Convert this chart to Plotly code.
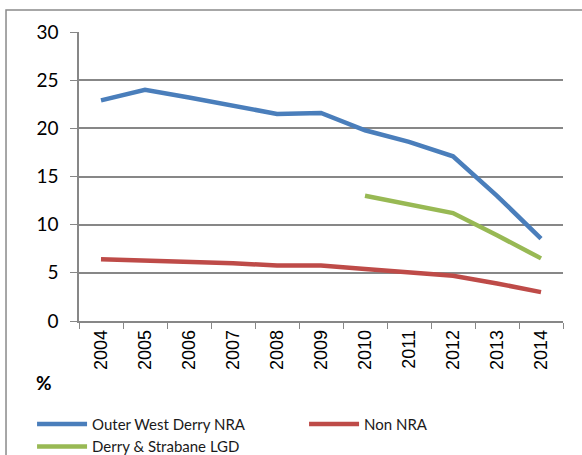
import plotly.graph_objects as go

years = ["2004", "2005", "2006", "2007", "2008", "2009", "2010", "2011", "2012", "2013", "2014"]
outer_west_derry = [22.9, 24.0, 23.2, 22.3, 21.5, 21.6, 19.8, 18.6, 17.1, 13.0, 8.55]
non_nra = [6.4, 6.3, 6.2, 6.0, 5.75, 5.75, 5.4, 5.1, 4.7, 3.9, 3.0]
derry_strabane = [None, None, None, None, None, None, 13.0, 12.1, 11.2, 8.9, 6.5]

GRID = "#878787"

fig = go.Figure()
fig.add_trace(go.Scatter(x=years, y=outer_west_derry, mode="lines", name="Outer West Derry NRA",
                         line=dict(color="#4a7ebb", width=4.5)))
fig.add_trace(go.Scatter(x=years, y=non_nra, mode="lines", name="Non NRA",
                         line=dict(color="#be4b48", width=4.5)))
fig.add_trace(go.Scatter(x=years, y=derry_strabane, mode="lines", name="Derry & Strabane LGD",
                         line=dict(color="#98b954", width=4.5)))

fig.update_layout(
    width=582, height=455,
    margin=dict(l=79, r=19, t=32, b=134, autoexpand=False),
    paper_bgcolor="white", plot_bgcolor="white",
    showlegend=True,
    legend=dict(orientation="h", x=-0.097, y=-0.3, xanchor="left", yanchor="top",
                entrywidth=207, entrywidthmode="pixels", itemwidth=50,
                font=dict(family="Lato", size=15, color="#1a1a1a"),
                tracegroupgap=0, bgcolor="rgba(0,0,0,0)"),
    xaxis=dict(type="category", range=[-0.5, 10.5], tickangle=-90, tickson="boundaries",
               ticks="outside", ticklen=6, automargin=False,
               tickcolor=GRID, showline=True, linecolor=GRID, linewidth=1.5, showgrid=False,
               tickfont=dict(family="Liberation Sans", size=18, color="black"), fixedrange=True),
    yaxis=dict(range=[0, 30], dtick=5, ticks="outside", ticklen=7, tickcolor=GRID, automargin=False,
               showline=True, linecolor=GRID, linewidth=1.5, showgrid=True, gridcolor=GRID,
               gridwidth=1.5, zeroline=False, ticklabelstandoff=8,
               tickfont=dict(family="Lato", size=19, color="black"), fixedrange=True),
)

fig.add_shape(type="rect", xref="paper", yref="paper", x0=-0.1508, y0=-0.7, x1=1.2, y1=1.0761,
              line=dict(color="#8a8a8a", width=1.5), fillcolor="rgba(0,0,0,0)", layer="below")

fig.add_annotation(text="<b>%</b>", xref="paper", yref="paper", x=-0.0936, y=-0.2595,
                   showarrow=False, font=dict(family="Lato", size=19, color="black"))

fig.write_html("out.html", config={"displayModeBar": False},
               post_script="document.body.style.margin='0px';")
